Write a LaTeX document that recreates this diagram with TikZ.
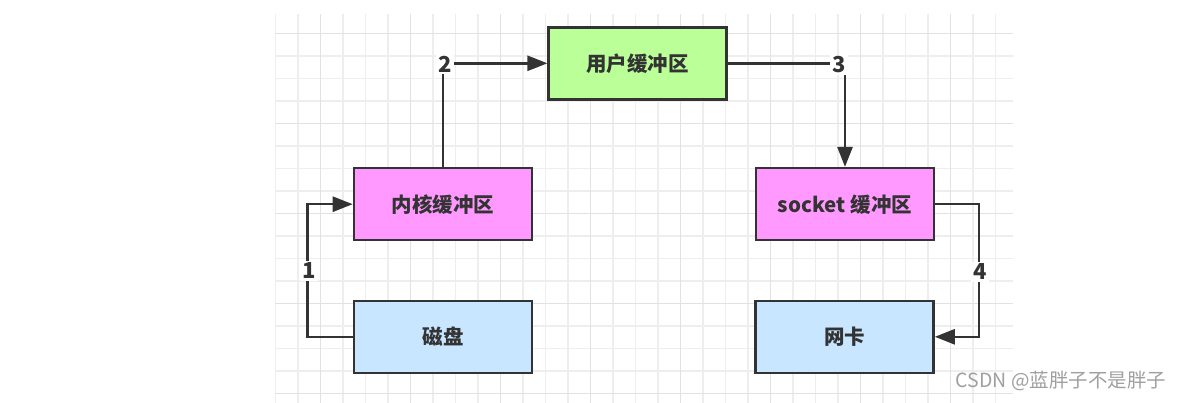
\documentclass[tikz,border=0pt]{standalone}
\usepackage{fontspec}
\setmainfont{Noto Sans CJK SC}
\usetikzlibrary{arrows.meta}
\definecolor{linec}{HTML}{333333}
\definecolor{txtc}{HTML}{333333}
\definecolor{gfill}{HTML}{BBFF99}
\definecolor{mfill}{HTML}{FF99FF}
\definecolor{bfill}{HTML}{C8E6FF}
\definecolor{gminor}{HTML}{EEEEEE}
\definecolor{gmajor}{HTML}{E2E2E2}
\definecolor{wmc}{HTML}{A0A0A0}
\begin{document}
\begin{tikzpicture}[x=1pt,y=-1pt,
  box/.style={draw=linec, line width=2.6pt, minimum width=178pt, minimum height=72pt, inner sep=0pt,
    font=\fontsize{20.5}{24}\selectfont\bfseries, text=txtc},
  conn/.style={draw=linec, line width=2.6pt},
  arr/.style={conn, -{Triangle[length=20pt,width=15pt]}},
  lbl/.style={fill=white, inner sep=2pt, font=\fontsize{22}{24}\selectfont\bfseries, text=linec}
]
\useasboundingbox (0,0) rectangle (1182,403);
\fill[white] (0,0) rectangle (1182,403);
% grid
\foreach \i in {0,...,32} {
  \pgfmathsetmacro{\xx}{275.5+22.5*\i}
  \draw[gminor, line width=1.1pt] (\xx,14) -- (\xx,403);
}
\foreach \j in {0,...,16} {
  \pgfmathsetmacro{\yy}{33.5+22.5*\j}
  \draw[gminor, line width=1.1pt] (275,\yy) -- (1013,\yy);
}
\foreach \i in {2,6,...,30} {
  \pgfmathsetmacro{\xx}{275.5+22.5*\i}
  \draw[gmajor, line width=1.1pt] (\xx,14) -- (\xx,403);
}
\foreach \j in {0,4,...,16} {
  \pgfmathsetmacro{\yy}{33.5+22.5*\j}
  \draw[gmajor, line width=1.1pt] (275,\yy) -- (1013,\yy);
}
% boxes
\node[box, fill=gfill] (user) at (637.7,63.3) {用户缓冲区};
\node[box, fill=mfill] (kernel) at (443,204.2) {内核缓冲区};
\node[box, fill=mfill] (socket) at (845,204.2) {socket 缓冲区};
\node[box, fill=bfill] (disk) at (443,336.8) {磁盘};
\node[box, fill=bfill] (nic) at (844.5,336.8) {网卡};
% connectors
\draw[arr] (disk.west) -- ++(-45.5,0) |- (kernel.west);
\draw[arr] (kernel.north) |- (user.west);
\draw[arr] (user.east) -| (socket.north);
\draw[arr] (socket.east) -- ++(43.5,0) |- (nic.east);
% labels
\node[lbl] (l1) at (309,271) {1};
\node[lbl] (l2) at (445,64) {2};
\node[lbl] (l3) at (839,65) {3};
\node[lbl] (l4) at (980,272) {4};
% watermark
\node[font=\fontsize{19.5}{22}\selectfont, text=wmc, inner sep=0pt] (wm) at (1061,381) {CSDN @蓝胖子不是胖子};
\end{tikzpicture}
\end{document}
